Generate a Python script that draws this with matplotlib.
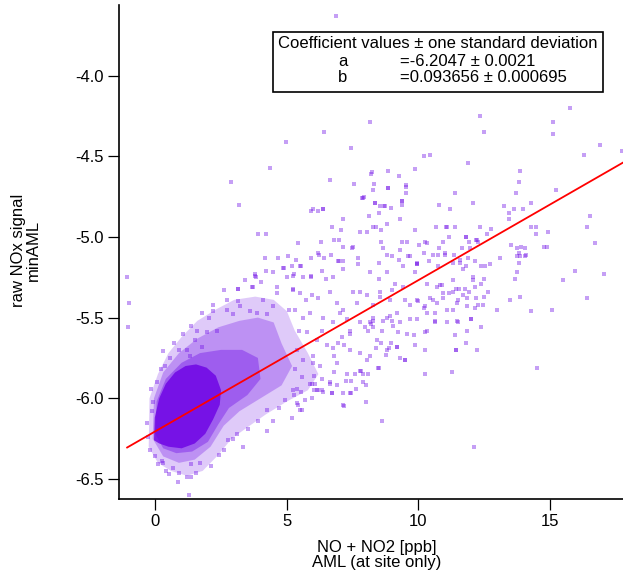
import matplotlib
matplotlib.use("Agg")
import matplotlib.pyplot as plt
from matplotlib.patches import Rectangle

plt.rcParams['font.family'] = ['Liberation Sans', 'DejaVu Sans']
plt.rcParams['axes.unicode_minus'] = False

# fit coefficients (y = a + b*x)
coef_a = -6.2047
coef_b = 0.093656
fit_x = [-1.07, 17.8]

# density levels of the point cloud, outer to inner (outlines)
lvl1_x = [-0.25, -0.22, 0.10, 0.50, 1.00, 1.60, 2.30, 3.00, 3.80, 4.50, 5.00, 5.30, 5.80, 6.20, 5.80, 5.00, 4.20, 3.50, 2.90, 2.40, 1.80, 1.20, 0.60, 0.10]
lvl1_y = [-6.30, -6.00, -5.85, -5.72, -5.62, -5.52, -5.45, -5.39, -5.37, -5.39, -5.46, -5.58, -5.72, -5.85, -5.95, -6.02, -6.10, -6.18, -6.25, -6.35, -6.45, -6.48, -6.45, -6.40]

lvl2_x = [-0.10, -0.05, 0.30, 0.90, 1.60, 2.40, 3.20, 3.90, 4.50, 4.80, 5.20, 4.80, 4.00, 3.20, 2.60, 2.10, 1.50, 0.90, 0.30]
lvl2_y = [-6.25, -6.00, -5.84, -5.72, -5.63, -5.56, -5.52, -5.50, -5.53, -5.66, -5.80, -5.92, -6.00, -6.08, -6.17, -6.30, -6.38, -6.40, -6.36]

lvl3_x = [0.00, 0.05, 0.40, 1.00, 1.70, 2.50, 3.30, 3.90, 4.00, 3.50, 2.80, 2.40, 2.00, 1.40, 0.80, 0.30]
lvl3_y = [-6.22, -6.02, -5.88, -5.78, -5.72, -5.70, -5.70, -5.75, -5.88, -5.98, -6.06, -6.16, -6.27, -6.33, -6.34, -6.31]

core_x = [-0.05, -0.02, 0.15, 0.40, 0.75, 1.15, 1.55, 1.95, 2.30, 2.50, 2.45, 2.20, 1.90, 1.50, 1.00, 0.50, 0.15]
core_y = [-6.26, -6.12, -6.00, -5.91, -5.84, -5.80, -5.79, -5.81, -5.86, -5.95, -6.04, -6.13, -6.22, -6.28, -6.31, -6.30, -6.28]

# individual points outside the dense part
pts = [
    (6.87, -3.63), (15.77, -4.20), (12.36, -4.25), (15.13, -4.29), (12.49, -4.35), (15.13, -4.36),
    (8.16, -4.29), (6.43, -4.35), (16.91, -4.43), (16.31, -4.49), (7.43, -4.45), (10.21, -4.50),
    (10.45, -4.49), (11.88, -4.54), (9.86, -4.58), (8.23, -4.60), (8.21, -4.61), (8.86, -4.59),
    (9.28, -4.62), (6.65, -4.65), (13.87, -4.59), (13.82, -4.66), (7.57, -4.67), (8.85, -4.70),
    (9.53, -4.68), (15.22, -4.71), (11.38, -4.73), (13.71, -4.73), (7.89, -4.76), (9.38, -4.78),
    (12.08, -4.79), (10.78, -4.80), (8.34, -4.79), (8.56, -4.81), (17.73, -4.47), (13.25, -4.81),
    (14.27, -4.79), (8.33, -4.67), (9.52, -4.69), (8.27, -4.71), (8.84, -4.70), (9.53, -4.73),
    (7.86, -4.76), (7.92, -4.75), (8.35, -4.79), (8.70, -4.81), (8.75, -4.81), (9.36, -4.78),
    (9.39, -4.80), (8.96, -4.82), (11.22, -4.83),
    (4.96, -4.41), (4.37, -4.57), (2.88, -4.66), (3.17, -4.80), (3.89, -4.98), (4.20, -4.98),
    (5.92, -4.84), (6.20, -4.84), (5.44, -5.04), (-1.09, -5.25), (4.17, -5.13), (4.65, -5.13),
    (5.06, -5.12), (4.89, -5.19), (5.54, -5.18), (3.80, -5.24), (5.25, -5.24), (5.92, -5.25),
    (3.16, -5.32), (3.69, -5.31), (4.62, -5.31), (5.25, -5.32),
    (5.99, -4.83), (6.36, -4.83), (6.38, -4.83), (7.12, -4.89), (8.11, -4.87), (9.30, -4.89),
    (13.46, -4.85), (13.65, -4.83), (13.97, -4.83), (16.53, -4.87), (13.44, -4.89), (6.73, -4.94),
    (7.07, -4.96), (7.78, -4.97), (8.29, -4.94), (8.58, -4.96), (8.80, -4.92), (9.87, -4.96),
    (10.68, -4.94), (11.04, -4.94), (11.38, -4.94), (12.36, -4.94), (12.76, -4.95), (14.29, -4.94),
    (14.46, -4.94), (14.48, -4.98), (16.40, -4.94), (14.94, -4.97), (6.31, -5.03), (6.79, -5.02),
    (6.98, -5.02), (7.50, -5.06), (8.59, -5.03), (9.39, -5.03), (9.56, -5.03), (10.32, -5.04),
    (11.80, -5.00), (12.19, -5.02), (13.52, -5.05), (13.74, -5.07), (14.88, -5.06), (16.71, -5.04),
    (6.20, -5.10), (6.68, -5.11), (7.00, -5.15), (7.72, -5.13), (8.49, -5.16), (8.82, -5.11),
    (9.68, -5.12), (9.96, -5.17), (10.41, -5.15), (10.74, -5.18), (11.00, -5.11), (11.33, -5.16),
    (11.59, -5.14), (11.83, -5.18), (12.55, -5.18), (13.11, -5.13), (13.76, -5.12), (14.10, -5.11),
    (15.50, -5.27), (15.97, -5.21), (17.07, -5.23),
    (8.38, -4.94), (8.06, -4.97), (8.52, -4.85), (11.09, -4.94), (11.16, -5.00), (7.14, -5.06),
    (7.47, -5.07), (8.66, -5.07), (9.29, -5.08), (10.03, -5.05), (10.24, -5.03), (10.78, -5.07),
    (10.93, -5.03), (11.03, -5.10), (10.22, -5.10), (11.36, -5.11), (5.36, -5.14), (5.93, -5.13),
    (6.24, -5.11), (6.43, -5.13), (6.94, -5.15), (7.14, -5.15), (9.00, -5.12), (9.62, -5.12),
    (9.27, -5.14), (9.95, -5.16), (10.57, -5.11), (10.76, -5.11),
    (12.61, -4.98), (11.83, -5.00), (11.92, -5.03), (12.22, -5.02), (12.26, -5.03), (11.67, -5.07),
    (11.98, -5.07), (13.90, -5.06), (14.06, -5.07), (13.84, -5.10), (13.87, -5.12), (14.07, -5.12),
    (14.77, -5.06), (11.90, -5.13), (12.16, -5.15), (13.84, -5.16),
    (13.75, -5.22), (13.67, -5.26), (16.41, -5.38), (13.88, -5.37), (13.49, -5.39), (15.07, -5.45),
    (14.30, -5.46), (12.99, -5.45), (14.50, -5.81), (12.66, -5.34), (12.51, -5.37), (12.38, -5.29),
    (12.51, -5.26), (12.73, -5.17), (12.40, -5.18), (12.07, -5.25), (12.07, -5.27), (12.16, -5.31),
    (11.78, -5.32), (11.92, -5.34), (11.56, -5.32), (11.43, -5.32), (11.71, -5.36), (11.52, -5.39),
    (11.86, -5.38), (12.21, -5.38), (12.26, -5.42), (12.16, -5.44), (12.46, -5.42), (11.99, -5.51),
    (11.52, -5.53), (12.40, -5.56), (11.86, -5.58), (11.81, -5.66), (12.24, -5.70), (11.43, -5.70),
    (11.57, -5.16), (11.70, -5.20),
    (10.25, -5.85), (11.27, -5.84), (8.63, -6.14), (8.00, -6.02), (7.19, -6.05), (7.43, -5.97),
    (7.90, -5.90), (8.08, -5.85), (7.58, -5.85), (7.81, -5.83), (7.26, -5.89), (6.92, -5.92),
    (6.72, -5.97), (6.63, -5.90), (6.78, -5.84), (5.19, -6.12), (5.50, -6.07), (5.41, -6.04),
    (5.68, -6.01), (6.05, -5.95), (6.20, -5.95), (6.34, -5.95), (5.97, -5.91), (6.08, -5.91),
    (6.03, -5.86), (5.38, -5.94), (5.55, -5.96), (5.29, -5.98),
    (12.13, -6.30), (8.51, -5.81), (9.51, -5.76), (8.00, -5.92), (7.62, -5.94), (7.15, -5.97),
    (8.57, -5.66), (8.95, -5.66), (9.20, -5.68), (8.78, -5.73), (8.16, -5.74), (7.78, -5.83),
    (7.43, -5.89), (7.29, -5.85), (9.89, -5.67), (10.27, -5.70), (10.65, -5.53), (11.42, -5.70),
    (10.63, -5.47), (10.24, -5.59), (9.85, -5.61), (9.23, -5.59), (9.30, -5.53), (9.68, -5.51),
    (10.34, -5.47), (10.57, -5.39), (10.95, -5.38), (11.16, -5.35), (10.83, -5.30), (11.84, -5.43),
    (12.00, -5.51), (11.46, -5.52), (11.41, -5.61), (11.31, -5.45), (10.22, -5.44), (8.27, -5.50),
    (7.97, -5.56), (8.19, -5.54), (8.29, -5.52), (8.81, -5.50), (8.99, -5.52), (8.63, -5.58),
    (8.87, -5.69), (8.40, -5.69), (7.41, -5.60), (7.19, -5.67), (6.81, -5.74), (6.71, -5.97),
    (6.90, -5.78), (7.78, -5.34), (8.54, -5.37), (8.99, -5.33), (9.43, -5.31), (10.00, -5.40),
    (9.68, -5.42),
    (5.19, -5.18), (5.50, -5.18), (5.27, -5.23), (5.63, -5.25), (5.91, -5.24), (6.33, -5.21),
    (6.49, -5.26), (6.77, -5.25), (7.15, -5.20), (7.72, -5.17), (8.16, -5.22), (8.52, -5.26),
    (8.80, -5.22), (9.13, -5.29), (9.43, -5.18), (9.94, -5.17), (9.87, -5.22), (10.32, -5.29),
    (10.70, -5.31), (10.90, -5.30), (11.31, -5.27), (11.33, -5.34), (5.25, -5.33), (5.50, -5.35),
    (5.73, -5.39), (5.95, -5.36), (6.20, -5.38), (6.64, -5.34), (6.90, -5.41), (7.15, -5.45),
    (7.51, -5.34), (7.66, -5.41), (8.04, -5.36), (8.27, -5.42), (8.54, -5.34), (8.92, -5.39),
    (9.18, -5.47), (9.49, -5.39), (9.94, -5.39), (10.26, -5.43), (10.45, -5.38), (10.70, -5.41),
    (10.95, -5.35), (11.08, -5.45), (11.46, -5.41), (5.31, -5.45), (5.63, -5.50), (5.88, -5.47),
    (6.39, -5.50), (6.77, -5.53), (7.02, -5.47), (7.28, -5.51), (7.40, -5.58), (7.78, -5.53),
    (8.16, -5.53), (8.29, -5.56), (8.10, -5.58), (8.67, -5.52), (8.92, -5.49), (9.05, -5.55),
    (9.56, -5.60), (9.94, -5.51), (10.32, -5.58), (10.63, -5.52), (11.08, -5.53), (5.76, -5.59),
    (6.14, -5.64), (6.33, -5.58), (6.52, -5.67), (6.77, -5.69), (6.96, -5.66), (7.09, -5.62),
    (7.40, -5.70), (7.78, -5.72), (8.42, -5.64), (8.80, -5.70), (9.18, -5.68), (9.30, -5.75),
    (9.49, -5.76), (8.48, -5.81), (7.91, -5.85), (8.04, -5.76), (5.38, -5.70), (5.63, -5.76),
    (6.01, -5.74), (6.26, -5.80), (5.31, -5.82), (5.57, -5.87), (5.88, -5.91), (7.15, -6.04),
    (6.64, -5.91), (7.40, -5.97), (5.38, -6.03), (5.57, -6.07), (6.14, -5.95), (6.39, -5.96),
    (-1.00, -5.41), (-1.03, -5.56), (0.30, -5.71), (0.91, -5.70), (0.37, -5.80), (0.56, -5.75),
    (-0.16, -5.94), (1.76, -5.47), (2.05, -5.50), (2.18, -5.42), (2.21, -5.46), (2.71, -5.45),
    (2.97, -5.48), (3.16, -5.32), (3.22, -5.43), (3.79, -5.23), (3.83, -5.25), (3.73, -5.31),
    (4.21, -5.21), (4.46, -5.22), (4.84, -5.19), (5.00, -5.25), (1.57, -5.58), (1.98, -5.59),
    (2.36, -5.58), (1.50, -5.64), (1.76, -5.68), (1.19, -5.70), (1.32, -5.74), (2.71, -5.39),
    (3.16, -5.40), (4.11, -5.39), (4.62, -5.35), (4.49, -5.43), (3.60, -5.46), (3.86, -5.47),
    (4.24, -5.48),
    (1.28, -6.60), (0.53, -6.47), (0.91, -6.46), (1.19, -6.49), (1.35, -6.49), (0.68, -6.43),
    (0.30, -6.40), (0.11, -6.41), (1.70, -6.40), (1.36, -6.41), (-0.01, -6.36), (0.24, -6.39),
    (2.43, -6.35), (3.35, -6.30), (2.75, -6.26), (2.94, -6.25), (3.54, -6.19), (4.26, -6.20),
    (4.49, -6.14), (4.93, -6.01), (5.25, -5.95), (-0.10, -6.02), (-0.14, -6.08), (4.24, -6.07),
    (-0.30, -6.15), (-0.28, -6.24), (-0.20, -6.32), (0.05, -5.90), (0.20, -5.82), (0.70, -5.66),
    (1.05, -5.60), (1.35, -5.55), (2.60, -5.33), (3.40, -5.27), (4.00, -5.28), (5.10, -5.45),
    (5.45, -5.58), (6.00, -5.78), (6.35, -5.88), (5.95, -6.00), (4.70, -6.06), (3.90, -6.14),
    (3.10, -6.22), (2.60, -6.32), (2.10, -6.42), (1.55, -6.46), (0.85, -6.52), (0.40, -6.45),
]
pts_x = [p[0] for p in pts]
pts_y = [p[1] for p in pts]

y_ticks = [-6.5, -6.0, -5.5, -5.0, -4.5, -4.0]
x_ticks = [0, 5, 10, 15]

fig = plt.figure(figsize=(6.23, 5.75), dpi=100)
ax = fig.add_axes([119 / 623, 76 / 575, 504 / 623, 494 / 575])

purple = '#7010e8'
ax.fill(lvl1_x, lvl1_y, color=purple, alpha=0.22, lw=0, zorder=1)
ax.fill(lvl2_x, lvl2_y, color=purple, alpha=0.30, lw=0, zorder=1)
ax.fill(lvl3_x, lvl3_y, color=purple, alpha=0.40, lw=0, zorder=1)
ax.fill(core_x, core_y, color='#6c00e4', alpha=0.8, lw=0, zorder=1)
ax.scatter(pts_x, pts_y, s=5, marker='s', color=purple, alpha=0.4, linewidths=0, zorder=2)

fit_y = [coef_a + coef_b * v for v in fit_x]
ax.plot(fit_x, fit_y, color='red', lw=1.3, zorder=3)

ax.set_xlim(-1.38, 17.78)
ax.set_ylim(-6.624, -3.563)
ax.set_xticks(x_ticks)
ax.set_yticks(y_ticks)
ax.set_yticklabels([f"{v:.1f}" for v in y_ticks])
ax.tick_params(direction='out', length=8, width=0.9, labelsize=12, pad=3)
for s in ['top', 'right']:
    ax.spines[s].set_visible(False)
for s in ['left', 'bottom']:
    ax.spines[s].set_linewidth(1.2)

fig.text(26 / 623, 1 - 250 / 575, "raw NOx signal\nminAML", rotation=90,
         ha='center', va='center', multialignment='center', fontsize=12, linespacing=1.05)
fig.text(377 / 623, 1 - 555 / 575, "NO + NO2 [ppb]\nAML (at site only)",
         ha='center', va='center', multialignment='center', fontsize=12, linespacing=1.0)

# coefficient box
fig.patches.append(Rectangle((273 / 623, 1 - 92 / 575), 330 / 623, 60 / 575,
                             transform=fig.transFigure, facecolor='white',
                             edgecolor='black', lw=1.2, zorder=5))
fig.text(438 / 623, 1 - 44 / 575, "Coefficient values \u00b1 one standard deviation",
         ha='center', va='center', fontsize=12, zorder=6)
fig.text(342.7 / 623, 1 - 61 / 575, "a", ha='center', va='center', fontsize=12, zorder=6)
fig.text(400 / 623, 1 - 61 / 575, f"={coef_a:.4f} \u00b1 0.0021", ha='left', va='center', fontsize=12, zorder=6)
fig.text(342.7 / 623, 1 - 78 / 575, "b", ha='center', va='center', fontsize=12, zorder=6)
fig.text(400 / 623, 1 - 78 / 575, f"={coef_b:.6f} \u00b1 0.000695", ha='left', va='center', fontsize=12, zorder=6)

fig.savefig("out.png", dpi=100)
